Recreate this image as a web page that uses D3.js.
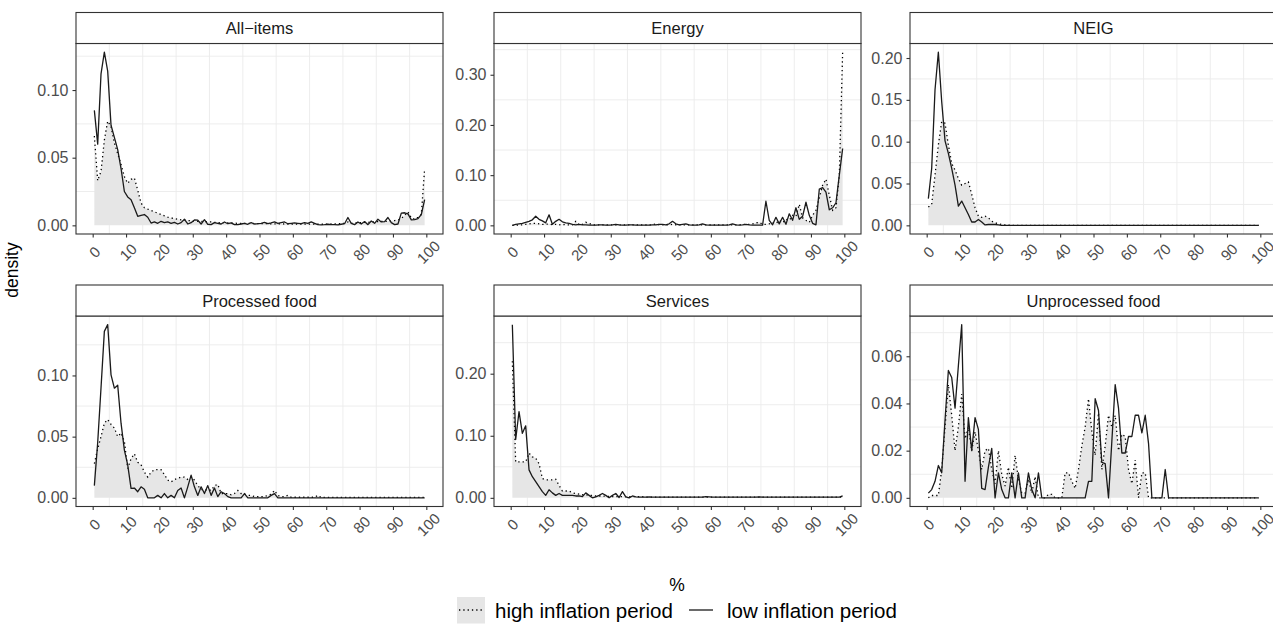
<!DOCTYPE html>
<html lang="en">
<head>
	<meta charset="utf-8" />
	<title>Inflation densities by component</title>
	<script src="https://cdn.jsdelivr.net/npm/d3@7"></script>
</head>

<style>
body { margin: 0; background: white; }
text { font-family: "Liberation Sans", Arial, Helvetica, sans-serif; }
</style>

<body>

<!-- Create a div where the graph will take place -->
<div id="InflationDensity"></div>

</body>

<script>

// bin midpoints (%)
var bins = [0.5, 1.5, 2.5, 3.5, 4.5, 5.5, 6.5, 7.5, 8.5, 9.5,
  10.5, 11.5, 12.5, 13.5, 14.5, 15.5, 16.5, 17.5, 18.5, 19.5,
  20.5, 21.5, 22.5, 23.5, 24.5, 25.5, 26.5, 27.5, 28.5, 29.5,
  30.5, 31.5, 32.5, 33.5, 34.5, 35.5, 36.5, 37.5, 38.5, 39.5,
  40.5, 41.5, 42.5, 43.5, 44.5, 45.5, 46.5, 47.5, 48.5, 49.5,
  50.5, 51.5, 52.5, 53.5, 54.5, 55.5, 56.5, 57.5, 58.5, 59.5,
  60.5, 61.5, 62.5, 63.5, 64.5, 65.5, 66.5, 67.5, 68.5, 69.5,
  70.5, 71.5, 72.5, 73.5, 74.5, 75.5, 76.5, 77.5, 78.5, 79.5,
  80.5, 81.5, 82.5, 83.5, 84.5, 85.5, 86.5, 87.5, 88.5, 89.5,
  90.5, 91.5, 92.5, 93.5, 94.5, 95.5, 96.5, 97.5, 98.5, 99.5];

var panelNames = ["All\u2212items", "Energy", "NEIG", "Processed food", "Services", "Unprocessed food"];
var seriesNames = ["high inflation period", "low inflation period"];

var xTicks = [0, 10, 20, 30, 40, 50, 60, 70, 80, 90, 100];
var yTicks = [
  [0, 0.05, 0.10],
  [0, 0.10, 0.20, 0.30],
  [0, 0.05, 0.10, 0.15, 0.20],
  [0, 0.05, 0.10],
  [0, 0.10, 0.20],
  [0, 0.02, 0.04, 0.06]
];

// ---- densities ----
var allItemsHigh = [0.066, 0.033, 0.040, 0.063, 0.077, 0.073, 0.061, 0.053, 0.045, 0.036,
  0.031, 0.034, 0.035, 0.026, 0.0165, 0.013, 0.012, 0.011, 0.010, 0.009,
  0.008, 0.007, 0.006, 0.0055, 0.005, 0.0045, 0.004, 0.004, 0.0035, 0.0035,
  0.003, 0.003, 0.003, 0.0028, 0.0025, 0.0025, 0.0022, 0.002, 0.002, 0.002,
  0.0018, 0.0018, 0.0016, 0.0015, 0.0015, 0.0015, 0.0014, 0.0014, 0.0013, 0.0013,
  0.0012, 0.0012, 0.0012, 0.0011, 0.0011, 0.0012, 0.0011, 0.001, 0.001, 0.001,
  0.001, 0.001, 0.001, 0.001, 0.0009, 0.0009, 0.0009, 0.0008, 0.0008, 0.0008,
  0.0009, 0.001, 0.001, 0.0012, 0.0012, 0.0015, 0.0025, 0.0015, 0.0018, 0.002,
  0.002, 0.0022, 0.0022, 0.0025, 0.0025, 0.0028, 0.003, 0.003, 0.003, 0.0032,
  0.0035, 0.004, 0.005, 0.0075, 0.0099, 0.0055, 0.0045, 0.006, 0.008, 0.042];
var allItemsLow = [0.085, 0.060, 0.112, 0.128, 0.114, 0.074, 0.065, 0.056, 0.042, 0.025,
  0.021, 0.019, 0.013, 0.0067, 0.0074, 0.008, 0.006, 0.0017, 0.0025, 0.0015,
  0.003, 0.002, 0.0025, 0.0015, 0.0022, 0.001, 0.002, 0.0045, 0.001, 0.002,
  0.004, 0.0038, 0.001, 0.0042, 0.0008, 0.0005, 0.002, 0.0015, 0.001, 0.0025,
  0.0012, 0.0018, 0.0005, 0.0005, 0.001, 0.0015, 0.0008, 0.002, 0.001, 0.0012,
  0.0015, 0.0022, 0.0012, 0.0018, 0.0025, 0.0015, 0.002, 0.0025, 0.0012, 0.0015,
  0.0018, 0.0015, 0.0012, 0.002, 0.0015, 0.0025, 0.0015, 0.0005, 0.0003, 0.0005,
  0.0008, 0.0005, 0.0006, 0.0003, 0.0008, 0.0012, 0.0058, 0.0015, 0.0005, 0.0025,
  0.001, 0.0028, 0.0005, 0.0032, 0.0015, 0.0045, 0.0025, 0.0028, 0.0058, 0.002,
  0.0005, 0.001, 0.009, 0.0093, 0.0085, 0.004, 0.0042, 0.005, 0.008, 0.019];

var energyHigh = [0, 0, 0.001, 0.001, 0.002, 0.003, 0.004, 0.004, 0.003, 0.002,
  0.002, 0.003, 0.001, 0.002, 0.001, 0.002, 0.001, 0.001, 0.001, 0.008,
  0.001, 0.002, 0.006, 0.004, 0.001, 0.001, 0.001, 0.001, 0.001, 0.001,
  0.001, 0.001, 0.001, 0.001, 0.001, 0.001, 0.001, 0.001, 0.001, 0.001,
  0.001, 0.001, 0.001, 0.003, 0.001, 0.001, 0.001, 0.001, 0.002, 0.001,
  0.001, 0.001, 0.001, 0.001, 0.001, 0.001, 0.001, 0.001, 0.001, 0.001,
  0.001, 0.001, 0.001, 0.001, 0.001, 0.001, 0.001, 0.001, 0.001, 0.002,
  0.002, 0.002, 0.003, 0.005, 0.006, 0.002, 0.002, 0.003, 0.006, 0.004,
  0.010, 0.005, 0.012, 0.010, 0.020, 0.018, 0.042, 0.015, 0.010, 0.006,
  0.020, 0.030, 0.055, 0.080, 0.092, 0.060, 0.030, 0.035, 0.100, 0.345];
var energyLow = [0, 0.002, 0.003, 0.004, 0.006, 0.008, 0.011, 0.018, 0.012, 0.009,
  0.005, 0.021, 0.002, 0.008, 0.012, 0.007, 0.005, 0.004, 0.002, 0.001,
  0.002, 0.001, 0.001, 0.0005, 0.0005, 0.0005, 0.001, 0.001, 0.0005, 0.0005,
  0.001, 0.002, 0.001, 0.0005, 0.0005, 0.001, 0.001, 0.0005, 0.0005, 0.0005,
  0.0005, 0.0005, 0.001, 0.001, 0.002, 0.002, 0.001, 0.003, 0.008, 0.003,
  0.001, 0.002, 0.003, 0.001, 0.0005, 0.0005, 0.001, 0.003, 0.001, 0.0005,
  0.0005, 0.0005, 0.0005, 0.0005, 0.0005, 0.001, 0.003, 0.001, 0.0005, 0.001,
  0.002, 0.001, 0.0005, 0.0005, 0.0005, 0.0005, 0.048, 0.010, 0.001, 0.016,
  0.003, 0.016, 0.002, 0.023, 0.010, 0.035, 0.012, 0.018, 0.046, 0.020,
  0.004, 0.001, 0.072, 0.075, 0.066, 0.031, 0.035, 0.045, 0.100, 0.153];

var neigHigh = [0.022, 0.025, 0.060, 0.096, 0.124, 0.122, 0.096, 0.074, 0.066, 0.056,
  0.048, 0.050, 0.052, 0.037, 0.021, 0.011, 0.0095, 0.011, 0.009, 0.005,
  0.003, 0.002, 0.001, 0.0005, 0.0003, 0, 0, 0, 0, 0,
  0, 0, 0, 0, 0, 0, 0, 0, 0, 0,
  0, 0, 0, 0, 0, 0, 0, 0, 0, 0,
  0, 0, 0, 0, 0, 0, 0, 0, 0, 0,
  0, 0, 0, 0, 0, 0, 0, 0, 0, 0,
  0, 0, 0, 0, 0, 0, 0, 0, 0, 0,
  0, 0, 0, 0, 0, 0, 0, 0, 0, 0,
  0, 0, 0, 0, 0, 0, 0, 0, 0, 0];
var neigLow = [0.032, 0.068, 0.162, 0.207, 0.148, 0.101, 0.086, 0.068, 0.048, 0.023,
  0.029, 0.021, 0.013, 0.004, 0.004, 0.007, 0.004, 0.0005, 0.001, 0.001,
  0.001, 0.0005, 0, 0, 0, 0, 0, 0, 0, 0,
  0, 0, 0, 0, 0, 0, 0, 0, 0, 0,
  0, 0, 0, 0, 0, 0, 0, 0, 0, 0,
  0, 0, 0, 0, 0, 0, 0, 0, 0, 0,
  0, 0, 0, 0, 0, 0, 0, 0, 0, 0,
  0, 0, 0, 0, 0, 0, 0, 0, 0, 0,
  0, 0, 0, 0, 0, 0, 0, 0, 0, 0,
  0, 0, 0, 0, 0, 0, 0, 0, 0, 0];

var procHigh = [0.028, 0.040, 0.050, 0.061, 0.064, 0.060, 0.057, 0.050, 0.053, 0.046,
  0.024, 0.032, 0.036, 0.029, 0.027, 0.021, 0.017, 0.021, 0.023, 0.023,
  0.023, 0.019, 0.0145, 0.013, 0.015, 0.016, 0.017, 0.017, 0.015, 0.017,
  0.0145, 0.010, 0.007, 0.006, 0.007, 0.006, 0.010, 0.011, 0.0035, 0.0035,
  0.0035, 0.0025, 0.0035, 0.006, 0.0035, 0.003, 0.002, 0.002, 0.001, 0.001,
  0.001, 0.001, 0.002, 0.003, 0.006, 0.002, 0.001, 0.001, 0.002, 0.0005,
  0.0005, 0.0005, 0.0005, 0.0005, 0.0005, 0.0005, 0.0005, 0.002, 0.0003, 0.0003,
  0.0003, 0.0003, 0.0003, 0.0003, 0.0003, 0.0003, 0.0003, 0.0003, 0.0003, 0.0003,
  0.0003, 0.0003, 0.0003, 0.0003, 0.0003, 0.0003, 0.0003, 0.0003, 0.0003, 0.0003,
  0.0003, 0.0003, 0.0003, 0.0003, 0.0003, 0.0003, 0.0003, 0.0003, 0.0003, 0.0003];
var procLow = [0.010, 0.045, 0.090, 0.136, 0.1415, 0.1005, 0.0896, 0.092, 0.061, 0.039,
  0.027, 0.0077, 0.008, 0.005, 0.009, 0.007, 0, 0, 0, 0.002,
  0, 0.0035, 0, 0.002, 0, 0.006, 0.008, 0, 0.009, 0.0186,
  0.009, 0.002, 0.009, 0.0035, 0.010, 0.002, 0.008, 0.001, 0.005, 0.0035,
  0.001, 0, 0, 0, 0, 0.0035, 0, 0, 0, 0,
  0, 0, 0, 0.002, 0.0035, 0, 0, 0, 0, 0,
  0, 0, 0, 0, 0, 0, 0, 0, 0, 0,
  0, 0, 0, 0, 0, 0, 0, 0, 0, 0,
  0, 0, 0, 0, 0, 0, 0, 0, 0, 0,
  0, 0, 0, 0, 0, 0, 0, 0, 0, 0];

var servHigh = [0.220, 0.058, 0.058, 0.058, 0.058, 0.072, 0.066, 0.064, 0.055, 0.031,
  0.029, 0.029, 0.029, 0.030, 0.020, 0.011, 0.011, 0.011, 0.008, 0.007,
  0.006, 0.005, 0.005, 0.004, 0.004, 0.003, 0.003, 0.003, 0.0025, 0.0025,
  0.002, 0.002, 0.002, 0.002, 0.002, 0.002, 0.002, 0.002, 0.002, 0.002,
  0.001, 0.001, 0.001, 0.001, 0.001, 0.001, 0.001, 0.001, 0.001, 0.001,
  0.001, 0.001, 0.001, 0.001, 0.001, 0.001, 0.001, 0.001, 0.001, 0.001,
  0.001, 0.001, 0.001, 0.001, 0.001, 0.001, 0.001, 0.001, 0.001, 0.001,
  0.001, 0.001, 0.001, 0.001, 0.001, 0.001, 0.001, 0.001, 0.001, 0.001,
  0.001, 0.001, 0.001, 0.001, 0.001, 0.001, 0.001, 0.001, 0.001, 0.001,
  0.001, 0.001, 0.001, 0.001, 0.001, 0.001, 0.001, 0.001, 0.001, 0.001];
var servLow = [0.279, 0.094, 0.139, 0.104, 0.116, 0.045, 0.034, 0.026, 0.018, 0.010,
  0.004, 0.013, 0.008, 0.004, 0.007, 0.004, 0.004, 0.004, 0.004, 0.003,
  0.003, 0.002, 0.008, 0.004, 0, 0.0015, 0.004, 0.007, 0.004, 0,
  0.004, 0.007, 0.0005, 0.010, 0.0015, 0, 0.003, 0.0015, 0.001, 0.001,
  0.001, 0.0015, 0.001, 0.001, 0.001, 0.001, 0.001, 0.001, 0.001, 0.001,
  0.001, 0.001, 0.001, 0.001, 0.001, 0.001, 0.001, 0.001, 0.002, 0.0015,
  0.001, 0.001, 0.001, 0.001, 0.001, 0.001, 0.001, 0.001, 0.001, 0.001,
  0.001, 0.001, 0.001, 0.001, 0.0015, 0.001, 0.001, 0.001, 0.001, 0.001,
  0.001, 0.001, 0.001, 0.001, 0.001, 0.001, 0.001, 0.001, 0.001, 0.001,
  0.001, 0.001, 0.001, 0.001, 0.001, 0.001, 0.001, 0.001, 0.001, 0.003];

var unprocHigh = [0, 0.001, 0.001, 0.001, 0.012, 0.030, 0.048, 0.035, 0.020, 0.030,
  0.044, 0.025, 0.030, 0.020, 0.028, 0.020, 0.012, 0.020, 0.021, 0.012,
  0.006, 0.020, 0.010, 0.005, 0.013, 0.004, 0.018, 0.008, 0.002, 0.002,
  0.008, 0.002, 0.009, 0, 0, 0, 0.0015, 0.0015, 0, 0,
  0, 0.0106, 0.0106, 0.007, 0.004, 0.012, 0.022, 0.030, 0.042, 0.028,
  0.018, 0.036, 0.012, 0.022, 0.035, 0.030, 0.035, 0.020, 0.027, 0.026,
  0.012, 0.006, 0.016, 0, 0.0106, 0.0106, 0, 0, 0, 0,
  0, 0, 0, 0, 0, 0, 0, 0, 0, 0,
  0, 0, 0, 0, 0, 0, 0, 0, 0, 0,
  0, 0, 0, 0, 0, 0, 0, 0, 0, 0];
var unprocLow = [0.002, 0.0035, 0.007, 0.0137, 0.0106, 0.033, 0.054, 0.051, 0.038, 0.056,
  0.0734, 0.007, 0.034, 0.020, 0.034, 0.029, 0.004, 0.0035, 0.013, 0.021,
  0, 0.0106, 0.0035, 0, 0, 0.0106, 0, 0.0106, 0, 0,
  0.0106, 0.0035, 0, 0.0106, 0, 0, 0, 0, 0, 0,
  0, 0, 0, 0, 0, 0, 0, 0, 0.007, 0.007,
  0.042, 0.037, 0.015, 0.0145, 0, 0.024, 0.048, 0.038, 0.019, 0.019,
  0.026, 0.026, 0.035, 0.035, 0.0275, 0.035, 0.023, 0, 0, 0,
  0, 0.012, 0, 0, 0, 0, 0, 0, 0, 0,
  0, 0, 0, 0, 0, 0, 0, 0, 0, 0,
  0, 0, 0, 0, 0, 0, 0, 0, 0, 0];

var highSeries = [allItemsHigh, energyHigh, neigHigh, procHigh, servHigh, unprocHigh];
var lowSeries = [allItemsLow, energyLow, neigLow, procLow, servLow, unprocLow];

// ---- layout ----
var width = 1273, height = 624;
var colLeft = [76, 494, 910],
    rowTop = [43.5, 316],
    panelW = 367, panelH = 190.5, stripH = 31;

var ink = "#333333", tickText = "#4D4D4D", gridCol = "#EBEBEB", areaFill = "#E6E6E6";

var svg = d3.select("#InflationDensity")
  .append("svg")
    .attr("width", width)
    .attr("height", height)
    .style("display", "block");

svg.append("rect").attr("width", width).attr("height", height).attr("fill", "white");

panelNames.forEach(function(name, i) {
  var left = colLeft[i % 3],
      top = rowTop[Math.floor(i / 3)];

  var high = bins.map(function(b, k) { return { x: b, v: highSeries[i][k] }; });
  var low = bins.map(function(b, k) { return { x: b, v: lowSeries[i][k] }; });
  var vmax = d3.max(high.concat(low), function(d) { return d.v; });

  var x = d3.scaleLinear().domain([-5, 105]).range([left, left + panelW]);
  var y = d3.scaleLinear().domain([-0.05 * vmax, 1.05 * vmax]).range([top + panelH, top]);

  var g = svg.append("g");

  // panel background
  g.append("rect")
    .attr("x", left).attr("y", top)
    .attr("width", panelW).attr("height", panelH)
    .attr("fill", "white");

  // minor grid lines only (midway between the breaks)
  var yt = yTicks[i], step = yt[1] - yt[0];
  var yMinor = [];
  for (var k = -1; k < yt.length; k++) {
    var m = yt[0] + step * (k + 0.5);
    if (m > y.domain()[0] && m < y.domain()[1]) yMinor.push(m);
  }
  var xMinor = [];
  for (var j = 0; j < xTicks.length - 1; j++) xMinor.push((xTicks[j] + xTicks[j + 1]) / 2);

  g.selectAll(null).data(yMinor).enter().append("line")
    .attr("x1", left).attr("x2", left + panelW)
    .attr("y1", function(d) { return y(d); }).attr("y2", function(d) { return y(d); })
    .attr("stroke", gridCol).attr("stroke-width", 0.9);
  g.selectAll(null).data(xMinor).enter().append("line")
    .attr("y1", top).attr("y2", top + panelH)
    .attr("x1", function(d) { return x(d); }).attr("x2", function(d) { return x(d); })
    .attr("stroke", gridCol).attr("stroke-width", 0.9);

  // shaded area for the high inflation period
  g.append("path")
    .datum(high)
    .attr("fill", areaFill)
    .attr("d", d3.area()
      .x(function(d) { return x(d.x); })
      .y0(y(0))
      .y1(function(d) { return y(d.v); }));

  // dotted line - high inflation
  g.append("path")
    .datum(high)
    .attr("fill", "none")
    .attr("stroke", "#000000")
    .attr("stroke-width", 1.3)
    .attr("stroke-dasharray", "1.3,3")
    .attr("d", d3.line()
      .x(function(d) { return x(d.x); })
      .y(function(d) { return y(d.v); }));

  // solid line - low inflation
  g.append("path")
    .datum(low)
    .attr("fill", "none")
    .attr("stroke", "#1A1A1A")
    .attr("stroke-width", 1.3)
    .attr("stroke-linejoin", "round")
    .attr("d", d3.line()
      .x(function(d) { return x(d.x); })
      .y(function(d) { return y(d.v); }));

  // panel border
  g.append("rect")
    .attr("x", left).attr("y", top)
    .attr("width", panelW).attr("height", panelH)
    .attr("fill", "none").attr("stroke", ink).attr("stroke-width", 1.1);

  // strip
  g.append("rect")
    .attr("x", left).attr("y", top - stripH)
    .attr("width", panelW).attr("height", stripH)
    .attr("fill", "white").attr("stroke", ink).attr("stroke-width", 1.1);
  g.append("text")
    .attr("x", left + panelW / 2).attr("y", top - stripH / 2)
    .attr("dominant-baseline", "central")
    .attr("text-anchor", "middle")
    .attr("fill", "#1A1A1A")
    .style("font-size", "16.5px")
    .text(name);

  // Y axis
  var ya = g.append("g")
    .attr("transform", "translate(" + left + ",0)")
    .call(d3.axisLeft(y).tickValues(yt).tickFormat(d3.format(".2f")).tickSize(3.5).tickPadding(4));
  ya.select(".domain").remove();
  ya.selectAll(".tick line").attr("stroke", ink).attr("stroke-width", 1.1);
  ya.selectAll(".tick text")
    .attr("fill", tickText)
    .style("font-size", "16px")
    .style("font-family", "'Liberation Sans', Arial, sans-serif");

  // X axis, rotated labels
  var xa = g.append("g")
    .attr("transform", "translate(0," + (top + panelH) + ")")
    .call(d3.axisBottom(x).tickValues(xTicks).tickSize(3.5));
  xa.select(".domain").remove();
  xa.selectAll(".tick line").attr("stroke", ink).attr("stroke-width", 1.1);
  xa.selectAll(".tick text")
    .attr("y", 0).attr("dy", null)
    .attr("dominant-baseline", "central")
    .attr("text-anchor", "middle")
    .attr("transform", "translate(1.5,18) rotate(-45)")
    .attr("fill", tickText)
    .style("font-size", "15px")
    .style("font-family", "'Liberation Sans', Arial, sans-serif");
});

// axis titles
svg.append("text")
  .attr("x", 677).attr("y", 585)
  .attr("text-anchor", "middle")
  .attr("dominant-baseline", "central")
  .style("font-size", "17.5px")
  .text("%");

svg.append("text")
  .attr("transform", "translate(12,270) rotate(-90)")
  .attr("text-anchor", "middle")
  .attr("dominant-baseline", "central")
  .style("font-size", "17.5px")
  .text("density");

// legend
var legend = svg.append("g");
legend.append("rect")
  .attr("x", 457).attr("y", 597)
  .attr("width", 28).attr("height", 26.5)
  .attr("fill", areaFill);
legend.append("line")
  .attr("x1", 459).attr("x2", 484).attr("y1", 610).attr("y2", 610)
  .attr("stroke", "#000").attr("stroke-width", 1.3).attr("stroke-dasharray", "1.3,3");
legend.append("text")
  .attr("x", 495).attr("y", 610)
  .attr("dominant-baseline", "central")
  .style("font-size", "20.5px")
  .text(seriesNames[0]);
legend.append("line")
  .attr("x1", 689).attr("x2", 713).attr("y1", 610).attr("y2", 610)
  .attr("stroke", "#1A1A1A").attr("stroke-width", 1.3);
legend.append("text")
  .attr("x", 727).attr("y", 610)
  .attr("dominant-baseline", "central")
  .style("font-size", "20.5px")
  .text(seriesNames[1]);

</script>

</html>
